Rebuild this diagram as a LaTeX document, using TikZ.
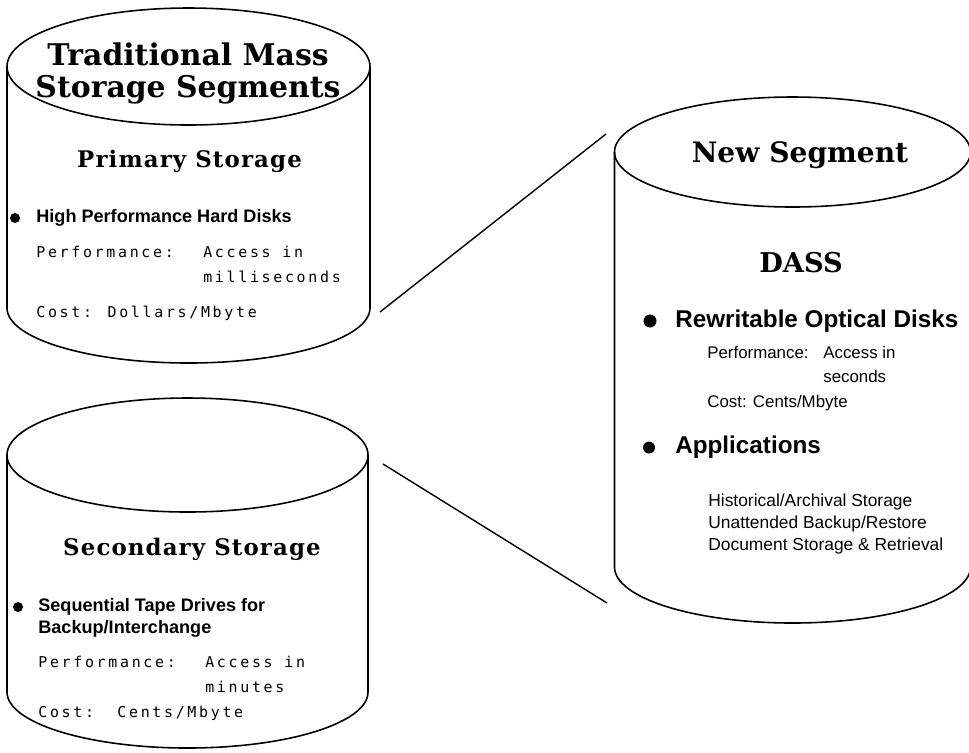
\documentclass[tikz,border=0pt]{standalone}
\usepackage{fontspec}
\setmainfont{DejaVu Serif}
\setsansfont{Liberation Sans}
\newfontfamily\monofont{DejaVu Sans Mono}[LetterSpace=18]
\newfontfamily\headfont{DejaVu Serif}[LetterSpace=5]
\usetikzlibrary{positioning}

% centre x, top y, bottom y, x radius, top y radius, bottom y radius
\newcommand\drawdrum[6]{%
  \draw[drum] (#1,#2) ellipse [x radius=#4, y radius=#5];
  \draw[drum] ({#1-#4},#2) -- ({#1-#4},#3)
    arc [start angle=180, end angle=0, x radius=#4, y radius=#6] -- ({#1+#4},#2);
}

\tikzset{
  drum/.style={line width=0.9pt},
  link/.style={line width=0.8pt},
  bigtitle/.style={font=\bfseries\fontsize{17}{18.1}\selectfont, align=center, inner sep=0pt, anchor=base},
  subtitle/.style={font=\headfont\bfseries\fontsize{13}{14}\selectfont, inner sep=0pt, anchor=base},
  item/.style={font=\sffamily\bfseries\fontsize{10.3}{12.5}\selectfont, align=left, inner sep=0pt, anchor=base west},
  bigitem/.style={font=\sffamily\bfseries\fontsize{13.8}{16}\selectfont, inner sep=0pt, anchor=base west},
  mono/.style={font=\monofont\fontsize{8.5}{14.2}\selectfont, align=left, inner sep=0pt, anchor=base west},
  plain/.style={font=\sffamily\fontsize{9.6}{13.9}\selectfont, align=left, inner sep=0pt, anchor=base west},
  small/.style={font=\sffamily\fontsize{9.9}{12.5}\selectfont, align=left, inner sep=0pt, anchor=base west}
}

\begin{document}
\begin{tikzpicture}[x=0.02cm, y=-0.02cm]
  \useasboundingbox (0,0) rectangle (969,752);

  % the three drums
  \drawdrum{188.5}{66.5}{308}{181.5}{58.5}{55}
  \drawdrum{187.5}{455}{692}{180.5}{57}{56}
  \drawdrum{792.5}{152}{567}{178}{55}{56}

  % primary storage (multi-line nodes sit on their last baseline)
  \node[bigtitle] (trad) at (188,97) {Traditional Mass\\Storage Segments};
  \node[subtitle] (prim) at (189.5,167) {Primary Storage};
  \fill (15,218) circle [radius=5];
  \node[item] (prim-disk) at (36,222) {High Performance Hard Disks};
  \node[mono] (prim-perf) at (36,317)
    {\makebox[3.34cm][l]{Performance:}Access in\\\hspace*{3.34cm}milliseconds\\[5.6pt]Cost: Dollars/Mbyte};

  % secondary storage
  \node[subtitle] (sec) at (192,555) {Secondary Storage};
  \fill (18,607) circle [radius=5];
  \node[item] (sec-tape) at (38,633) {Sequential Tape Drives for\\Backup/Interchange};
  \node[mono] (sec-perf) at (38,717)
    {\makebox[3.34cm][l]{Performance:}Access in\\\hspace*{3.34cm}minutes\\Cost:\ \ Cents/Mbyte};

  % new segment
  \node[bigtitle, font=\bfseries\fontsize{16}{17}\selectfont] (new) at (800,162) {New Segment};
  \node[bigtitle, font=\bfseries\fontsize{15.5}{17}\selectfont] (dass) at (801,272) {DASS};
  \fill (650,321) circle [radius=6.5];
  \node[bigitem] (optical) at (675,327) {Rewritable Optical Disks};
  \node[plain] (dass-perf) at (707,407)
    {\makebox[2.32cm][l]{Performance:}Access in\\\hspace*{2.32cm}seconds\\Cost: Cents/Mbyte};
  \fill (649,447.5) circle [radius=6];
  \node[bigitem] (apps) at (675,453) {Applications};
  \node[small] (app-list) at (708,550)
    {Historical/Archival Storage\\Unattended Backup/Restore\\Document Storage \& Retrieval};

  % perspective lines
  \coordinate (prim-out) at (380,312);
  \coordinate (sec-out) at (383,464);
  \coordinate (new-top) at (606,134);
  \coordinate (new-bot) at (607,603);
  \draw[link] (prim-out) -- (new-top);
  \draw[link] (sec-out) -- (new-bot);
\end{tikzpicture}
\end{document}
